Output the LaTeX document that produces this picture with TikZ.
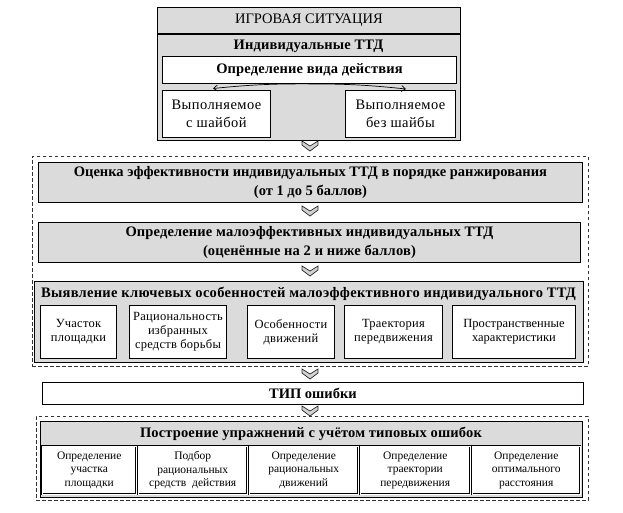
\documentclass[tikz,border=0pt]{standalone}
\usepackage{fontspec}
\setmainfont{Liberation Serif}
\usetikzlibrary{arrows.meta}
\tikzset{
  gbox/.style={draw=black, line width=0.9pt, fill=gray!28, anchor=north west, inner sep=0pt, align=center},
  wbox/.style={draw=black, line width=0.9pt, fill=white, anchor=north west, inner sep=0pt, align=center},
  dbox/.style={draw=black!80, line width=0.8pt, dash pattern=on 3.5pt off 2.5pt, anchor=north west, inner sep=0pt},
  sbox/.style={draw=black, line width=0.9pt, fill=white, anchor=north west, inner sep=0pt, align=center, font=\fontsize{12.5}{14}\selectfont\addfontfeature{LetterSpace=2}},
  ddbox/.style={draw=black, line width=0.45pt, double=white, double distance=1.3pt, fill=white, anchor=north west, inner sep=0pt, align=center, font=\fontsize{11.5}{13.4}\selectfont},
  ttl/.style={font=\fontsize{14.5}{19}\selectfont\bfseries, inner sep=0pt, align=center},
  conn/.style={line width=0.7pt, -{Straight Barb[length=4pt,width=6pt]}},
  chev/.pic={\filldraw[fill=gray!35, draw=black!85, line width=0.7pt, line join=miter]
     (-8,0) -- (0,5) -- (8,0) -- (8,4) -- (0,10) -- (-8,4) -- cycle;}
}
\begin{document}
\begin{tikzpicture}[x=1pt, y=-1pt]
\useasboundingbox (0,0) rectangle (623,512);
% top section
\node[gbox, minimum width=303pt, minimum height=26pt, font=\fontsize{14.5}{16}\selectfont] (sit) at (157,7) {ИГРОВАЯ СИТУАЦИЯ};
\node[gbox, minimum width=303pt, minimum height=106pt] (ind) at (157,34) {};
\node[ttl, font=\fontsize{14.5}{19}\selectfont\bfseries\addfontfeature{LetterSpace=1}] (indt) at (308.5,46) {Индивидуальные ТТД};
\node[wbox, minimum width=294pt, minimum height=27pt, font=\fontsize{14.5}{16}\selectfont\bfseries\addfontfeature{LetterSpace=1}] (vid) at (162,56) {Определение вида действия};
\node[wbox, minimum width=108pt, minimum height=47pt, font=\fontsize{14.5}{18}\selectfont\addfontfeature{LetterSpace=3}] (s1) at (162,90) {Выполняемое\\с шайбой};
\node[wbox, minimum width=110pt, minimum height=47pt, font=\fontsize{14.5}{18}\selectfont\addfontfeature{LetterSpace=3}] (s2) at (345,90) {Выполняемое\\без шайбы};
\coordinate (v0) at (vid.south);
\coordinate (t1) at (213,88.5);
\coordinate (t2) at (406,89);
\draw[conn] (v0) to[bend right=3] (t1);
\draw[conn] (v0) to[bend left=3] (t2);
\pic at (310,141) {chev};
% dashed group 1
\node[dbox, minimum width=556pt, minimum height=210pt] (g1) at (32,156) {};
\node[gbox, minimum width=544pt, minimum height=40pt, font=\fontsize{14.5}{19}\selectfont\bfseries] (ocen) at (38,162) {Оценка эффективности индивидуальных ТТД в порядке ранжирования\\(от 1 до 5 баллов)};
\pic at (310,206) {chev};
\node[gbox, minimum width=542pt, minimum height=40pt, font=\fontsize{14.5}{19}\selectfont\bfseries\addfontfeature{LetterSpace=1}] (malo) at (38,222) {Определение малоэффективных индивидуальных ТТД\\(оценённые на 2 и ниже баллов)};
\pic at (310,266) {chev};
\node[gbox, minimum width=549pt, minimum height=81pt] (vyav) at (34,281) {};
\node[ttl, font=\fontsize{14.5}{19}\selectfont\bfseries\addfontfeature{LetterSpace=2}] (vyavt) at (308.5,294) {Выявление ключевых особенностей малоэффективного индивидуального ТТД};
\node[sbox, minimum width=76pt, minimum height=53pt] (k1) at (40,305) {Участок\\площадки};
\node[sbox, minimum width=97pt, minimum height=53pt] (k2) at (129,305) {Рациональность\\избранных\\средств борьбы};
\node[sbox, minimum width=87pt, minimum height=53pt] (k3) at (247,305) {Особенности\\движений};
\node[sbox, minimum width=98pt, minimum height=53pt] (k4) at (344,305) {Траектория\\передвижения};
\node[sbox, minimum width=123pt, minimum height=53pt, font=\fontsize{12.5}{14}\selectfont] (k5) at (452,305) {Пространственные\\характеристики};
\pic at (310,369) {chev};
% error type
\node[wbox, minimum width=541pt, minimum height=22pt, font=\fontsize{14.5}{16}\selectfont\bfseries] (tip) at (42,382) {ТИП ошибки};
\pic at (310,406) {chev};
% dashed group 2
\node[dbox, minimum width=552pt, minimum height=84pt] (g2) at (36,416) {};
\node[gbox, minimum width=542pt, minimum height=76pt] (post) at (40,421) {};
\node[ttl, font=\fontsize{14.5}{19}\selectfont\bfseries\addfontfeature{LetterSpace=1}] (postt) at (311,434) {Построение упражнений с учётом типовых ошибок};
\node[ddbox, minimum width=94pt, minimum height=48pt] (u1) at (42,446) {Определение\\участка\\площадки};
\node[ddbox, minimum width=109pt, minimum height=48pt] (u2) at (138,446) {Подбор\\рациональных\\средств~~действия};
\node[ddbox, minimum width=109pt, minimum height=48pt] (u3) at (249,446) {Определение\\рациональных\\движений};
\node[ddbox, minimum width=110pt, minimum height=48pt] (u4) at (360,446) {Определение\\траектории\\передвижения};
\node[ddbox, minimum width=108pt, minimum height=48pt] (u5) at (472,446) {Определение\\оптимального\\расстояния};
\end{tikzpicture}
\end{document}
